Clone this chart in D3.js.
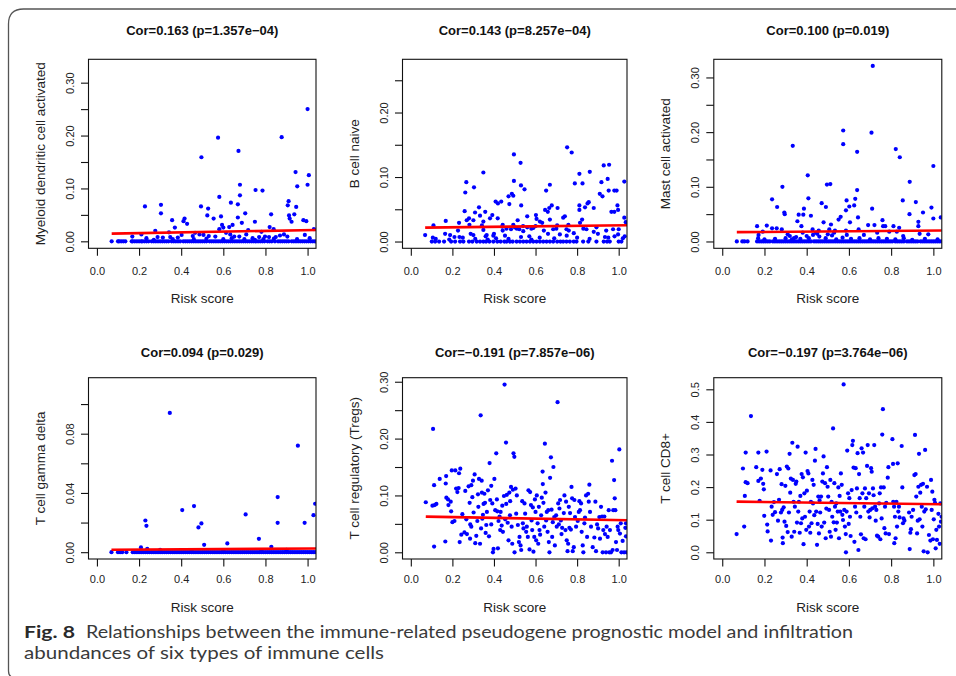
<!DOCTYPE html>
<html>
<head>
<meta charset="utf-8">
<script src="https://cdn.jsdelivr.net/npm/d3@7"></script>
<style>
  body { margin: 0; background: #fff; }
  svg { display: block; }
</style>
</head>
<body>
<svg id="fig" width="956" height="676"></svg>
<script>

// ---- data: [risk score, fraction] ----
var mdcPoints = [
  [0.228,0.066],[0.277,0.020],[0.304,0.053],[0.304,0.069],[0.357,0.040],[0.370,0.026],[0.342,0.017],[0.416,0.043],
  [0.411,0.038],[0.428,0.033],[0.496,0.159],[0.494,0.066],[0.528,0.062],[0.524,0.049],[0.554,0.043],[0.575,0.196],
  [0.581,0.084],[0.581,0.023],[0.589,0.047],[0.594,0.031],[0.600,0.026],[0.636,0.073],[0.628,0.027],[0.644,0.031],
  [0.633,0.013],[0.669,0.070],[0.669,0.045],[0.672,0.171],[0.679,0.107],[0.679,0.087],[0.688,0.035],[0.704,0.053],
  [0.718,0.021],[0.750,0.037],[0.753,0.097],[0.786,0.096],[0.781,0.018],[0.820,0.027],[0.827,0.051],[0.839,0.023],
  [0.877,0.197],[0.888,0.013],[0.906,0.068],[0.910,0.076],[0.912,0.049],[0.915,0.043],[0.924,0.037],[0.937,0.051],
  [0.943,0.131],[0.946,0.065],[0.951,0.104],[0.980,0.040],[0.994,0.038],[1.000,0.107],[1.000,0.250],[1.006,0.125],
  [1.030,0.023],[0.987,0.012],[0.904,0.009],[0.168,0.009],[0.211,0.013],[0.235,0.006],[0.288,0.008],[0.313,0.007],
  [0.348,0.008],[0.384,0.007],[0.402,0.012],[0.455,0.010],[0.466,0.016],[0.487,0.013],[0.506,0.012],[0.531,0.010],
  [0.562,0.009],[0.613,0.016],[0.652,0.009],[0.676,0.009],[0.709,0.013],[0.739,0.006],[0.770,0.008],[0.798,0.009],
  [0.817,0.008],[0.849,0.008],[0.869,0.011],[0.46,0.004],[0.52,0.005],[0.60,0.004],[0.64,0.006],[0.70,0.004],
  [0.75,0.003],[0.79,0.004],[0.84,0.005],[0.95,0.004],[1.01,0.006],[0.36,0.004],[0.27,0.003]
];
var mdcZeros = [0.07,0.10,0.105,0.115,0.125,0.135,0.165,0.17,0.18,0.19,0.20,0.21,0.215,0.225,0.235,0.245,0.26,0.27,
  0.28,0.29,0.30,0.31,0.32,0.33,0.34,0.355,0.365,0.375,0.385,0.395,0.41,0.42,0.43,0.44,0.45,0.46,0.47,0.48,0.49,0.50,
  0.51,0.52,0.535,0.545,0.555,0.565,0.575,0.585,0.595,0.605,0.615,0.625,0.635,0.645,0.655,0.665,0.675,0.685,0.695,
  0.705,0.715,0.725,0.735,0.745,0.755,0.765,0.775,0.785,0.795,0.81,0.82,0.83,0.845,0.86,0.87,0.88,0.89,0.90,0.91,
  0.925,0.935,0.945,0.955,0.965,0.975,0.985,0.995,1.005,1.015,1.025,1.035];

var bNaivePoints = [
  [0.069,0.010],[0.109,0.025],[0.106,0.006],[0.168,0.032],[0.165,0.012],[0.189,0.010],[0.210,0.007],[0.232,0.029],
  [0.227,0.017],[0.234,0.007],[0.259,0.047],[0.262,0.076],[0.267,0.092],[0.269,0.033],[0.280,0.036],[0.282,0.026],
  [0.288,0.012],[0.301,0.010],[0.304,0.084],[0.309,0.045],[0.301,0.033],[0.328,0.053],[0.333,0.040],[0.342,0.025],
  [0.349,0.107],[0.349,0.031],[0.358,0.046],[0.349,0.018],[0.365,0.010],[0.381,0.036],[0.392,0.041],[0.397,0.009],
  [0.408,0.062],[0.419,0.059],[0.435,0.062],[0.418,0.036],[0.442,0.026],[0.442,0.017],[0.453,0.009],[0.470,0.070],
  [0.474,0.058],[0.486,0.074],[0.493,0.071],[0.496,0.135],[0.496,0.094],[0.482,0.019],[0.493,0.026],[0.514,0.033],
  [0.528,0.122],[0.530,0.087],[0.531,0.056],[0.547,0.081],[0.522,0.019],[0.541,0.016],[0.560,0.039],[0.570,0.008],
  [0.602,0.041],[0.605,0.035],[0.589,0.021],[0.621,0.031],[0.632,0.029],[0.646,0.049],[0.651,0.079],[0.659,0.046],
  [0.669,0.088],[0.666,0.052],[0.678,0.056],[0.669,0.034],[0.685,0.019],[0.706,0.052],[0.704,0.025],[0.717,0.011],
  [0.733,0.037],[0.741,0.039],[0.752,0.146],[0.749,0.019],[0.774,0.138],[0.758,0.026],[0.789,0.090],[0.784,0.013],
  [0.811,0.105],[0.811,0.056],[0.811,0.049],[0.814,0.029],[0.826,0.090],[0.824,0.034],[0.838,0.053],[0.850,0.059],
  [0.856,0.061],[0.861,0.108],[0.845,0.019],[0.880,0.052],[0.893,0.022],[0.909,0.074],[0.917,0.092],[0.922,0.070],
  [0.928,0.118],[0.934,0.007],[0.947,0.097],[0.952,0.079],[0.954,0.119],[0.965,0.046],[0.979,0.079],[0.990,0.079],
  [0.979,0.046],[0.994,0.056],[0.997,0.049],[0.973,0.019],[0.997,0.011],[1.027,0.093],[1.027,0.037],[1.034,0.030],
  [1.029,0.008],[0.12,0.004],[0.185,0.003],[0.25,0.006],[0.31,0.004],[0.37,0.003],[0.41,0.005],[0.47,0.004],
  [0.53,0.007],[0.58,0.003],[0.62,0.006],[0.66,0.012],[0.69,0.005],[0.75,0.009],[0.80,0.006],[0.86,0.004],
  [0.90,0.012],[0.95,0.006],[0.98,0.008],[1.02,0.005],[0.44,0.023],[0.51,0.020],[0.56,0.022],[0.60,0.024],
  [0.64,0.017],[0.70,0.020],[0.76,0.017],[0.83,0.020],[0.88,0.015],[0.94,0.017],[1.00,0.019],[0.46,0.020],
  [0.50,0.022],[0.54,0.024],[0.58,0.020],[0.40,0.012],[0.36,0.008]
];
var bNaiveZeros = [0.101,0.117,0.136,0.16,0.194,0.213,0.237,0.253,0.28,0.296,0.317,0.333,0.349,0.362,0.378,0.397,
  0.416,0.432,0.45,0.461,0.477,0.49,0.509,0.525,0.541,0.557,0.573,0.589,0.605,0.621,0.637,0.653,0.669,0.685,0.704,
  0.72,0.733,0.749,0.765,0.784,0.797,0.829,0.854,0.893,0.928,0.944,0.957,1.0,1.013];

var mastPoints = [
  [0.165,0.028],[0.172,0.012],[0.192,0.018],[0.211,0.029],[0.236,0.077],[0.236,0.024],[0.260,0.063],[0.258,0.024],
  [0.282,0.022],[0.285,0.100],[0.294,0.053],[0.296,0.050],[0.334,0.175],[0.356,0.037],[0.362,0.049],[0.375,0.028],
  [0.384,0.049],[0.387,0.060],[0.381,0.016],[0.405,0.121],[0.408,0.079],[0.400,0.010],[0.420,0.047],[0.428,0.022],
  [0.444,0.016],[0.457,0.020],[0.471,0.070],[0.480,0.035],[0.491,0.063],[0.496,0.104],[0.512,0.105],[0.507,0.022],
  [0.515,0.031],[0.534,0.020],[0.551,0.040],[0.561,0.045],[0.573,0.203],[0.573,0.178],[0.586,0.057],[0.589,0.075],
  [0.586,0.020],[0.602,0.064],[0.605,0.035],[0.625,0.066],[0.630,0.078],[0.639,0.164],[0.639,0.094],[0.643,0.044],
  [0.646,0.022],[0.671,0.012],[0.691,0.030],[0.707,0.199],[0.710,0.060],[0.713,0.321],[0.721,0.030],[0.734,0.016],
  [0.759,0.039],[0.762,0.028],[0.772,0.028],[0.791,0.018],[0.811,0.028],[0.822,0.169],[0.827,0.018],[0.838,0.025],
  [0.841,0.154],[0.855,0.075],[0.857,0.010],[0.888,0.109],[0.887,0.050],[0.917,0.072],[0.929,0.036],[0.929,0.028],
  [0.935,0.014],[0.951,0.053],[0.976,0.013],[0.991,0.062],[1.000,0.138],[1.000,0.042],[1.035,0.044],[0.17,0.006],
  [0.20,0.004],[0.25,0.005],[0.30,0.006],[0.32,0.010],[0.33,0.004],[0.35,0.008],[0.37,0.005],[0.41,0.006],
  [0.43,0.012],[0.46,0.009],[0.49,0.006],[0.52,0.011],[0.54,0.004],[0.57,0.007],[0.59,0.012],[0.61,0.005],
  [0.65,0.006],[0.70,0.004],[0.74,0.006],[0.78,0.005],[0.82,0.004],[0.86,0.006],[0.90,0.003],[0.96,0.005],
  [1.02,0.004],[0.31,0.013],[0.34,0.006],[0.45,0.014],[0.50,0.013],[0.53,0.016]
];
var mastZeros = [0.069,0.095,0.105,0.12,0.165,0.175,0.185,0.195,0.205,0.215,0.225,0.24,0.25,0.26,0.27,0.28,0.29,0.30,
  0.31,0.32,0.33,0.34,0.35,0.36,0.37,0.38,0.39,0.40,0.41,0.42,0.435,0.445,0.455,0.465,0.475,0.485,0.495,0.505,0.515,
  0.525,0.535,0.545,0.555,0.565,0.575,0.585,0.595,0.605,0.615,0.625,0.635,0.645,0.655,0.665,0.675,0.685,0.695,0.705,
  0.715,0.725,0.735,0.745,0.755,0.765,0.775,0.785,0.795,0.805,0.82,0.83,0.84,0.85,0.86,0.875,0.885,0.895,0.905,0.915,
  0.925,0.94,0.95,0.96,0.97,0.98,0.99,1.00,1.01,1.02,1.03,1.04];

var gdPoints = [
  [0.209,0.0032],[0.230,0.0214],[0.235,0.0178],[0.239,0.0023],[0.346,0.0940],[0.405,0.0284],[0.461,0.0311],
  [0.482,0.0167],[0.496,0.0194],[0.509,0.0050],[0.619,0.0059],[0.706,0.0255],[0.769,0.0090],[0.828,0.0036],
  [0.858,0.0372],[0.858,0.0198],[0.954,0.0719],[0.986,0.0198],[1.028,0.0250],[1.036,0.0327],[0.30,0.0015],
  [0.45,0.0010],[0.60,0.0012],[0.78,0.0010],[0.90,0.0015]
];
var gdZeros = [0.069,0.10,0.11,0.12,0.14,0.17,0.18,0.19,0.20,0.21,0.22,0.23,0.24,0.25,0.26,0.27,0.28,0.29,0.30,0.31,
  0.32,0.33,0.34,0.35,0.36,0.37,0.38,0.39,0.40,0.41,0.42,0.43,0.44,0.45,0.46,0.47,0.48,0.49,0.50,0.51,0.52,0.53,0.54,
  0.55,0.56,0.57,0.58,0.59,0.60,0.61,0.62,0.63,0.64,0.65,0.66,0.67,0.68,0.69,0.70,0.71,0.72,0.73,0.74,0.75,0.76,0.77,
  0.78,0.79,0.80,0.81,0.82,0.83,0.84,0.85,0.86,0.87,0.88,0.89,0.90,0.91,0.92,0.93,0.94,0.95,0.96,0.97,0.98,0.99,1.00,
  1.01,1.02,1.03,1.04];

var tregPoints = [
  [0.072,0.088],[0.107,0.217],[0.104,0.082],[0.115,0.083],[0.123,0.085],[0.112,0.010],[0.112,0.118],[0.139,0.129],
  [0.166,0.019],[0.170,0.134],[0.168,0.121],[0.171,0.096],[0.179,0.093],[0.181,0.083],[0.192,0.089],[0.194,0.072],
  [0.197,0.144],[0.200,0.053],[0.210,0.055],[0.214,0.144],[0.218,0.112],[0.224,0.106],[0.230,0.113],[0.232,0.139],
  [0.235,0.018],[0.238,0.147],[0.243,0.031],[0.248,0.067],[0.258,0.035],[0.262,0.108],[0.267,0.058],[0.270,0.032],
  [0.278,0.116],[0.283,0.087],[0.286,0.049],[0.285,0.024],[0.291,0.045],[0.291,0.118],[0.296,0.097],[0.299,0.126],
  [0.302,0.070],[0.307,0.137],[0.310,0.016],[0.315,0.029],[0.320,0.055],[0.323,0.102],[0.325,0.080],[0.328,0.129],
  [0.333,0.015],[0.336,0.241],[0.338,0.042],[0.341,0.126],[0.342,0.105],[0.344,0.059],[0.347,0.066],[0.350,0.085],
  [0.354,0.103],[0.357,0.087],[0.360,0.034],[0.363,0.048],[0.366,0.071],[0.371,0.109],[0.376,0.028],[0.379,0.157],
  [0.382,0.092],[0.387,0.117],[0.387,0.049],[0.392,0.086],[0.395,0.000],[0.398,0.006],[0.402,0.129],[0.406,0.074],
  [0.411,0.174],[0.414,0.093],[0.416,0.072],[0.419,0.007],[0.422,0.055],[0.427,0.063],[0.430,0.039],[0.432,0.071],
  [0.437,0.047],[0.440,0.082],[0.443,0.036],[0.448,0.099],[0.451,0.295],[0.454,0.058],[0.458,0.193],[0.459,0.085],
  [0.462,0.101],[0.466,0.052],[0.470,0.021],[0.474,0.105],[0.477,0.065],[0.478,0.090],[0.482,0.115],[0.485,0.045],
  [0.488,0.015],[0.491,0.110],[0.494,0.174],[0.498,0.168],[0.499,0.000],[0.504,0.112],[0.507,0.068],[0.510,0.100],
  [0.515,0.048],[0.520,0.018],[0.523,0.027],[0.528,0.012],[0.531,0.004],[0.536,0.090],[0.539,0.051],[0.542,0.042],
  [0.547,0.086],[0.550,0.068],[0.555,0.036],[0.558,0.045],[0.563,0.027],[0.566,0.109],[0.571,0.005],[0.574,0.106],
  [0.578,0.083],[0.581,0.056],[0.584,0.039],[0.587,0.079],[0.590,0.001],[0.594,0.027],[0.597,0.093],[0.600,0.071],
  [0.603,0.021],[0.606,0.100],[0.610,0.051],[0.613,0.015],[0.616,0.080],[0.619,0.039],[0.622,0.031],[0.627,0.065],
  [0.630,0.096],[0.634,0.142],[0.635,0.120],[0.638,0.087],[0.642,0.045],[0.645,0.191],[0.648,0.105],[0.651,0.056],
  [0.654,0.071],[0.658,0.036],[0.661,0.074],[0.664,0.018],[0.667,0.000],[0.670,0.131],[0.674,0.167],[0.677,0.075],
  [0.680,0.027],[0.683,0.053],[0.686,0.150],[0.690,0.062],[0.693,0.012],[0.699,0.065],[0.702,0.045],[0.706,0.264],
  [0.709,0.086],[0.712,0.049],[0.715,0.077],[0.718,0.092],[0.722,0.056],[0.725,0.032],[0.728,0.043],[0.736,0.069],
  [0.739,0.100],[0.744,0.039],[0.747,0.089],[0.750,0.021],[0.754,0.002],[0.757,0.015],[0.760,0.080],[0.763,0.043],
  [0.766,0.069],[0.770,0.040],[0.773,0.115],[0.776,0.095],[0.779,0.002],[0.784,0.009],[0.787,0.092],[0.790,0.062],
  [0.795,0.045],[0.803,0.055],[0.808,0.071],[0.811,0.090],[0.814,0.074],[0.819,0.086],[0.822,0.036],[0.827,0.012],
  [0.830,0.000],[0.835,0.051],[0.838,0.061],[0.843,0.100],[0.848,0.027],[0.853,0.103],[0.856,0.089],[0.859,0.119],
  [0.862,0.071],[0.867,0.045],[0.875,0.009],[0.883,0.026],[0.888,0.089],[0.891,0.002],[0.896,0.049],[0.901,0.042],
  [0.907,0.062],[0.910,0.024],[0.915,0.080],[0.920,0.063],[0.923,0.000],[0.926,0.039],[0.931,0.063],[0.934,0.032],
  [0.939,0.000],[0.942,0.045],[0.947,0.027],[0.952,0.074],[0.955,0.000],[0.958,0.039],[0.963,0.000],[0.968,0.161],
  [0.971,0.004],[0.974,0.074],[0.978,0.127],[0.981,0.095],[0.984,0.074],[0.987,0.018],[0.992,0.004],[0.995,0.045],
  [0.998,0.039],[1.003,0.181],[1.006,0.033],[1.010,0.051],[1.013,0.000],[1.019,0.020],[1.026,0.000],[1.032,0.043],
  [1.035,0.028],[1.035,0.051],[1.038,0.000]
];

var cd8Points = [
  [0.068,0.056],[0.098,0.257],[0.104,0.079],[0.107,0.173],[0.111,0.306],[0.111,0.215],[0.120,0.212],[0.136,0.418],
  [0.161,0.261],[0.171,0.306],[0.171,0.219],[0.177,0.158],[0.183,0.226],[0.190,0.253],[0.194,0.210],[0.197,0.193],
  [0.199,0.112],[0.210,0.309],[0.213,0.085],[0.215,0.064],[0.229,0.251],[0.231,0.036],[0.234,0.140],[0.239,0.115],
  [0.245,0.154],[0.250,0.123],[0.259,0.240],[0.264,0.097],[0.269,0.161],[0.272,0.255],[0.278,0.122],[0.281,0.209],
  [0.284,0.130],[0.286,0.045],[0.287,0.028],[0.291,0.138],[0.295,0.094],[0.299,0.204],[0.303,0.081],[0.306,0.263],
  [0.310,0.062],[0.313,0.257],[0.316,0.122],[0.319,0.302],[0.322,0.183],[0.325,0.226],[0.329,0.048],[0.332,0.336],
  [0.335,0.222],[0.338,0.155],[0.341,0.063],[0.344,0.140],[0.348,0.210],[0.351,0.217],[0.354,0.091],[0.357,0.324],
  [0.360,0.125],[0.363,0.155],[0.367,0.060],[0.370,0.173],[0.373,0.089],[0.376,0.240],[0.379,0.104],[0.382,0.230],
  [0.385,0.025],[0.389,0.181],[0.392,0.109],[0.395,0.306],[0.398,0.069],[0.401,0.189],[0.404,0.249],[0.408,0.242],
  [0.411,0.079],[0.414,0.125],[0.417,0.060],[0.420,0.155],[0.423,0.089],[0.427,0.222],[0.430,0.150],[0.433,0.207],
  [0.436,0.114],[0.439,0.281],[0.442,0.317],[0.445,0.125],[0.449,0.023],[0.452,0.087],[0.455,0.171],[0.458,0.058],
  [0.461,0.159],[0.464,0.122],[0.468,0.171],[0.471,0.079],[0.474,0.217],[0.477,0.242],[0.480,0.294],[0.483,0.091],
  [0.487,0.212],[0.490,0.043],[0.493,0.134],[0.496,0.261],[0.499,0.201],[0.502,0.171],[0.506,0.130],[0.509,0.063],
  [0.512,0.222],[0.515,0.048],[0.518,0.155],[0.521,0.109],[0.525,0.380],[0.528,0.092],[0.531,0.212],[0.534,0.140],
  [0.537,0.069],[0.540,0.150],[0.543,0.091],[0.547,0.125],[0.550,0.199],[0.553,0.043],[0.556,0.173],[0.559,0.125],
  [0.562,0.242],[0.566,0.207],[0.569,0.115],[0.572,0.099],[0.575,0.515],[0.578,0.130],[0.581,0.079],[0.585,0.056],
  [0.586,0.000],[0.589,0.125],[0.592,0.312],[0.596,0.181],[0.599,0.087],[0.602,0.166],[0.605,0.109],[0.608,0.050],
  [0.613,0.191],[0.616,0.329],[0.619,0.342],[0.622,0.260],[0.626,0.032],[0.629,0.140],[0.632,0.258],[0.635,0.122],
  [0.638,0.196],[0.641,0.304],[0.645,0.007],[0.648,0.240],[0.651,0.166],[0.654,0.109],[0.657,0.055],[0.660,0.319],
  [0.664,0.181],[0.667,0.306],[0.670,0.043],[0.673,0.140],[0.676,0.196],[0.679,0.040],[0.682,0.166],[0.686,0.265],
  [0.689,0.329],[0.692,0.125],[0.695,0.181],[0.698,0.107],[0.701,0.130],[0.705,0.258],[0.708,0.247],[0.711,0.135],
  [0.714,0.196],[0.717,0.175],[0.720,0.329],[0.724,0.140],[0.727,0.097],[0.730,0.130],[0.733,0.051],[0.739,0.048],
  [0.743,0.150],[0.746,0.181],[0.749,0.040],[0.752,0.199],[0.755,0.104],[0.758,0.361],[0.761,0.439],[0.765,0.199],
  [0.768,0.074],[0.771,0.140],[0.774,0.058],[0.777,0.152],[0.784,0.229],[0.787,0.261],[0.790,0.056],[0.806,0.347],
  [0.809,0.271],[0.810,0.155],[0.814,0.140],[0.815,0.028],[0.818,0.109],[0.821,0.043],[0.825,0.155],[0.828,0.079],
  [0.831,0.273],[0.834,0.125],[0.837,0.140],[0.840,0.107],[0.850,0.326],[0.853,0.199],[0.856,0.089],[0.859,0.104],
  [0.863,0.097],[0.885,0.122],[0.888,0.010],[0.891,0.060],[0.894,0.071],[0.897,0.109],[0.904,0.130],[0.910,0.237],
  [0.913,0.360],[0.916,0.240],[0.919,0.171],[0.923,0.058],[0.926,0.097],[0.929,0.201],[0.932,0.302],[0.935,0.101],
  [0.938,0.183],[0.942,0.207],[0.945,0.140],[0.948,0.079],[0.951,0.210],[0.954,0.003],[0.957,0.125],[0.961,0.314],
  [0.964,0.132],[0.970,0.201],[0.973,0.000],[0.979,0.053],[0.986,0.036],[0.989,0.222],[0.992,0.130],[0.995,0.186],
  [0.998,0.040],[1.002,0.101],[1.005,0.161],[1.008,0.152],[1.011,0.012],[1.014,0.069],[1.017,0.038],[1.024,0.118],
  [1.027,0.079],[1.030,0.026],[1.033,0.150],[1.036,0.094],[1.039,0.109]
];

var titles = ["Cor=0.163 (p=1.357e\u221204)", "Cor=0.143 (p=8.257e\u221204)", "Cor=0.100 (p=0.019)",
  "Cor=0.094 (p=0.029)", "Cor=\u22120.191 (p=7.857e\u221206)", "Cor=\u22120.197 (p=3.764e\u221206)"];
var cellTypes = ["Myeloid dendritic cell activated", "B cell naive", "Mast cell activated",
  "T cell gamma delta", "T cell regulatory (Tregs)", "T cell CD8+"];
// fitted line: [x0, y0, x1, y1]
var fitLines = [[0.07,0.0145,1.04,0.0214],[0.069,0.0216,1.04,0.0253],[0.069,0.0170,1.04,0.0200],
  [0.069,0.0016,1.04,0.0025],[0.072,0.0628,1.04,0.0564],[0.068,0.1554,1.04,0.1472]];
var xTicks = [0, 0.2, 0.4, 0.6, 0.8, 1.0];
var yTicks = [[0,0.05,0.10,0.15,0.20,0.25,0.30],[0,0.05,0.10,0.15,0.20,0.25],[0,0.05,0.10,0.15,0.20,0.25,0.30],
  [0,0.02,0.04,0.06,0.08,0.10],[0,0.05,0.10,0.15,0.20,0.25,0.30],[0,0.1,0.2,0.3,0.4,0.5]];
var yTickLabels = [["0.00","","0.10","","0.20","","0.30"],["0.00","","0.10","","0.20",""],
  ["0.00","","0.10","","0.20","","0.30"],["0.00","","0.04","","0.08",""],
  ["0.00","","0.10","","0.20","","0.30"],["0.0","0.1","0.2","0.3","0.4","0.5"]];
var yDomains = [[-0.0132,0.3442],[-0.0105,0.2825],[-0.0125,0.3332],[-0.0046,0.1178],[-0.0118,0.3071],[-0.0206,0.5356]];

var pointSets = [
  mdcPoints.concat(mdcZeros.map(function(v) { return [v, 0]; })),
  bNaivePoints.concat(bNaiveZeros.map(function(v) { return [v, 0]; })),
  mastPoints.concat(mastZeros.map(function(v) { return [v, 0]; })),
  gdPoints.concat(gdZeros.map(function(v) { return [v, 0]; })),
  tregPoints,
  cd8Points
];

// ---- layout ----
var svg = d3.select("#fig");
var cols = [[88.5, 316], [402.5, 627], [713.8, 941.8]];
var rows = [
  {t: 59.3, b: 248.3, title: 35, tick: 275, lab: 303.3},
  {t: 377.7, b: 559, title: 357, tick: 583.3, lab: 611.7}
];
var fontR = "'Liberation Sans', Arial, Helvetica, sans-serif";

// frame round the figure
svg.append("path")
  .attr("d", "M8.5,671 L8.5,24 Q8.5,9 23.5,9 L956,9")
  .attr("fill", "none")
  .attr("stroke", "#555")
  .attr("stroke-width", 1.3);
svg.append("path")
  .attr("d", "M8.5,671 Q8.5,676 12,677")
  .attr("fill", "none")
  .attr("stroke", "#555")
  .attr("stroke-width", 1.3);

titles.forEach(function(title, i) {
  var c = cols[i % 3], r = rows[Math.floor(i / 3)];
  var x = d3.scaleLinear().domain([-0.04, 1.04]).range([c[0], c[1]]);
  var y = d3.scaleLinear().domain(yDomains[i]).range([r.b, r.t]);
  var g = svg.append("g");

  g.append("clipPath").attr("id", "clip" + i)
    .append("rect")
    .attr("x", c[0]).attr("y", r.t)
    .attr("width", c[1] - c[0]).attr("height", r.b - r.t);

  var plot = g.append("g").attr("clip-path", "url(#clip" + i + ")");

  plot.selectAll("circle")
    .data(pointSets[i])
    .enter()
    .append("circle")
    .attr("cx", d => x(d[0]))
    .attr("cy", d => y(d[1]))
    .attr("r", 2.1)
    .style("fill", "#0000ff");

  var f = fitLines[i];
  plot.append("line")
    .attr("x1", x(f[0])).attr("y1", y(f[1]))
    .attr("x2", x(f[2])).attr("y2", y(f[3]))
    .style("stroke", "#ff0000")
    .style("stroke-width", 2.6);

  // box
  g.append("rect")
    .attr("x", c[0]).attr("y", r.t)
    .attr("width", c[1] - c[0]).attr("height", r.b - r.t)
    .style("fill", "none")
    .style("stroke", "#111")
    .style("stroke-width", 1.1);

  // x axis
  var xa = g.append("g")
    .attr("transform", "translate(0," + r.b + ")")
    .call(d3.axisBottom(x).tickValues(xTicks).tickSize(7.5).tickFormat(d3.format(".1f")));
  xa.select(".domain").remove();
  xa.selectAll("line").attr("stroke", "#111").attr("stroke-width", 1.1);
  xa.selectAll("text")
    .attr("y", r.tick - r.b).attr("dy", null)
    .attr("fill", "#222")
    .style("font-family", fontR).style("font-size", "11px");

  // y axis, labels parallel to the axis
  var labels = yTickLabels[i];
  var ya = g.append("g")
    .attr("transform", "translate(" + c[0] + ",0)")
    .call(d3.axisLeft(y).tickValues(yTicks[i]).tickSize(7.5).tickFormat((d, k) => labels[k]));
  ya.select(".domain").remove();
  ya.selectAll("line").attr("stroke", "#111").attr("stroke-width", 1.1);
  ya.selectAll("text")
    .attr("x", null).attr("dy", null)
    .attr("text-anchor", "middle")
    .attr("transform", "translate(-15,0) rotate(-90)")
    .attr("fill", "#222")
    .style("font-family", fontR).style("font-size", "11px");

  g.append("text")
    .attr("x", (c[0] + c[1]) / 2).attr("y", r.title)
    .attr("text-anchor", "middle")
    .style("font-family", fontR).style("font-size", "13px").style("font-weight", "bold")
    .attr("fill", "#111")
    .text(title);

  g.append("text")
    .attr("x", (c[0] + c[1]) / 2).attr("y", r.lab)
    .attr("text-anchor", "middle")
    .style("font-family", fontR).style("font-size", "13.5px")
    .attr("fill", "#222")
    .text("Risk score");

  g.append("text")
    .attr("transform", "translate(" + (c[0] - 44) + "," + ((r.t + r.b) / 2) + ") rotate(-90)")
    .attr("text-anchor", "middle")
    .style("font-family", fontR).style("font-size", "13.5px")
    .attr("fill", "#222")
    .text(cellTypes[i]);
});

// caption
var capFont = "Lato, 'Open Sans', sans-serif";
svg.append("text")
  .attr("x", 24).attr("y", 638)
  .attr("textLength", 51).attr("lengthAdjust", "spacingAndGlyphs")
  .style("font-family", capFont).style("font-size", "17px").style("font-weight", "bold")
  .attr("fill", "#2a2a2a")
  .text("Fig. 8");
svg.append("text")
  .attr("x", 86).attr("y", 638)
  .attr("textLength", 767).attr("lengthAdjust", "spacingAndGlyphs")
  .style("font-family", capFont).style("font-size", "17px")
  .attr("fill", "#3a3a3a")
  .text("Relationships between the immune-related pseudogene prognostic model and infiltration");
svg.append("text")
  .attr("x", 24).attr("y", 659)
  .attr("textLength", 360).attr("lengthAdjust", "spacingAndGlyphs")
  .style("font-family", capFont).style("font-size", "17px")
  .attr("fill", "#3a3a3a")
  .text("abundances of six types of immune cells");

</script>
</body>
</html>
